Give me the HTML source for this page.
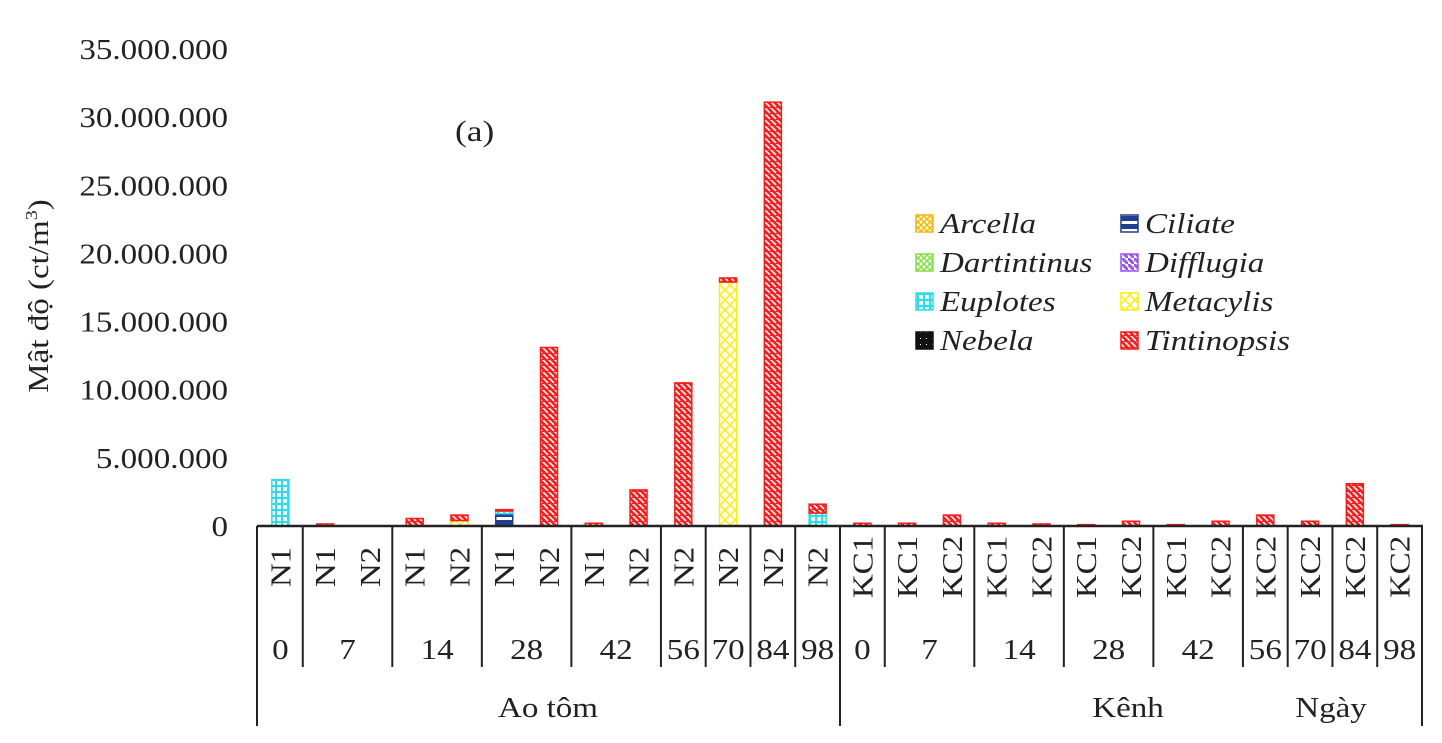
<!DOCTYPE html>
<html><head><meta charset="utf-8"><style>
body{margin:0;background:#fff}
svg{display:block;font-family:"Liberation Serif",serif}
</style></head><body>
<svg id="c" width="1442" height="743" viewBox="0 0 1442 743">
<defs>
<pattern id="p-arc" width="6" height="6" patternUnits="userSpaceOnUse"><rect width="6" height="6" fill="#fff"/><path d="M0 0L6 6M6 0L0 6" stroke="#f5b800" stroke-width="1.5"/></pattern>
<pattern id="p-cil" width="6" height="8" patternUnits="userSpaceOnUse"><rect width="6" height="8" fill="#1f3f8f"/><rect y="5" width="6" height="3" fill="#fff"/></pattern>
<pattern id="p-dar" width="6" height="6" patternUnits="userSpaceOnUse"><rect width="6" height="6" fill="#fff"/><path d="M0 0L6 6M6 0L0 6" stroke="#7fe040" stroke-width="1.5"/></pattern>
<pattern id="p-dif" width="6" height="6" patternUnits="userSpaceOnUse"><rect width="6" height="6" fill="#fff"/><path d="M0 0L6 6" stroke="#9a55f0" stroke-width="3"/></pattern>
<pattern id="p-eup" width="6" height="6" patternUnits="userSpaceOnUse"><rect width="6" height="6" fill="#22e0f0"/><rect x="1" y="1" width="4" height="4" fill="#fff"/></pattern>
<pattern id="p-met" width="10" height="10" patternUnits="userSpaceOnUse"><rect width="10" height="10" fill="#fff"/><path d="M5 0L10 5L5 10L0 5Z" fill="none" stroke="#ffee00" stroke-width="1.5"/></pattern>
<pattern id="p-neb" width="6" height="6" patternUnits="userSpaceOnUse"><rect width="6" height="6" fill="#111"/><rect x="2" y="2" width="1" height="1" fill="#fff"/></pattern>
<pattern id="p-tin" width="6" height="6" patternUnits="userSpaceOnUse"><rect width="6" height="6" fill="#ff1a1a"/><path d="M-1 2L2 5M2 -1L7 4" stroke="#fff" stroke-width="1.6"/></pattern>
</defs>
<g id="bars"></g>
<g id="axes"></g>
<g transform="translate(48,296) rotate(-90) scale(1.18,1)"><text x="0" y="0" text-anchor="middle" font-size="28" fill="#222">Mật độ (ct/m<tspan font-size="17" dy="-11">3</tspan><tspan dy="11">)</tspan></text></g>
<g transform="translate(455,141) scale(1.18,1)"><text x="0" y="0" font-size="30" fill="#222">(a)</text></g>
<g id="legend"></g>
</svg>
<script>
const series = ["Arcella","Ciliate","Dartintinus","Difflugia","Euplotes","Metacylis","Nebela","Tintinopsis"];
const patterns = ["p-arc","p-cil","p-dar","p-dif","p-eup","p-met","p-neb","p-tin"];
const strokes = ["#f5b800","#1f3f8f","#7fe040","#9a55f0","#22e0f0","#ffee00","#111","#ff1a1a"];
const categories = ["N1","N1","N2","N1","N2","N1","N2","N1","N2","N2","N2","N2","N2","KC1","KC1","KC2","KC1","KC2","KC1","KC2","KC1","KC2","KC2","KC2","KC2","KC2"];
const days = [["0",1],["7",2],["14",2],["28",2],["42",2],["56",1],["70",1],["84",1],["98",1],["0",1],["7",2],["14",2],["28",2],["42",2],["56",1],["70",1],["84",1],["98",1]];
const ciliate   = [0,0,0,0,0,0.9,0,0,0,0,0,0,0, 0,0,0,0,0,0,0,0,0,0,0,0,0];
const euplotes  = [3.4,0,0,0,0,0.2,0,0,0,0,0,0,0.95, 0,0,0,0,0,0,0,0,0,0,0,0,0];
const metacylis = [0,0,0,0,0.4,0,0,0,0,0,17.9,0,0, 0,0,0,0,0,0,0,0,0,0,0,0,0];
const tintinopsis=[0,0.15,0,0.55,0.4,0.1,13.1,0.2,2.65,10.5,0.3,31.1,0.65, 0.2,0.2,0.8,0.2,0.15,0.1,0.35,0.1,0.35,0.8,0.35,3.1,0.1];
const zeros = new Array(26).fill(0);
const values = [zeros,ciliate,zeros,zeros,euplotes,metacylis,zeros,tintinopsis];
const yTicks = [0,5,10,15,20,25,30,35];
const yTickLabels = ["0","5.000.000","10.000.000","15.000.000","20.000.000","25.000.000","30.000.000","35.000.000"];
const NS="http://www.w3.org/2000/svg";
const X0=258,X1=1422,Y0=526,YT=49,YMAX=35,SX=1.18,FS=28;
const bw=(X1-X0)/categories.length;
const y=v=>Y0-(v/YMAX)*(Y0-YT);
const xc=i=>X0+bw*(i+0.5);
function mk(tag,attrs,parent){const e=document.createElementNS(NS,tag);for(const k in attrs)e.setAttribute(k,attrs[k]);parent.appendChild(e);return e;}
function txt(parent,x,yy,rot,anchor,str,extra){const g=mk('g',{transform:`translate(${x},${yy}) rotate(${rot}) scale(${SX},1)`},parent);
  const a={x:0,y:0,'text-anchor':anchor,'font-size':FS,fill:'#222'};for(const k in (extra||{}))a[k]=extra[k];
  const t=mk('text',a,g);t.textContent=str;return t;}
const gB=document.getElementById('bars'),gA=document.getElementById('axes'),gL=document.getElementById('legend');
categories.forEach((c,i)=>{let acc=0;
  series.forEach((s,si)=>{const v=values[si][i];if(!v)return;
    const r=mk('rect',{x:xc(i)-8.5,y:y(acc+v),width:17,height:y(acc)-y(acc+v),fill:'url(#'+patterns[si]+')',stroke:strokes[si],'stroke-width':1.5},gB);
    
    
    acc+=v;});
  const t=txt(gA,xc(i)+10,567,-90,'middle',c);
  
  
});
yTicks.forEach((v,k)=>{const t=txt(gA,228,y(v)+10,0,'end',yTickLabels[k]);
  
  });
mk('line',{x1:X0-1,x2:X1+1,y1:Y0,y2:Y0,stroke:'#222','stroke-width':2.5},gA);
let idx=0;
days.forEach(([d,n],k)=>{const x=X0+bw*idx;
  if(k!==0&&k!==9)mk('line',{x1:x,x2:x,y1:Y0,y2:667,stroke:'#222','stroke-width':2},gA);
  const t=txt(gA,x+bw*n/2,659,0,'middle',d);
  
  
  idx+=n;});
[X0-1,X0+bw*13,X1].forEach(x=>mk('line',{x1:x,x2:x,y1:Y0,y2:726,stroke:'#222','stroke-width':2},gA));
[["Ao tôm",548],["Kênh",1128],["Ngày",1331]].forEach(([s,x])=>{const t=txt(gA,x,717,0,'middle',s);
  
  });
series.forEach((s,si)=>{const col=si%2,row=Math.floor(si/2);
  const lx=col?1121:916,ly=215+row*39;
  const sw=mk('rect',{x:lx,y:ly,width:17,height:17,fill:'url(#'+patterns[si]+')',stroke:strokes[si],'stroke-width':1.5},gL);
  
  
  const t=txt(gL,lx+24,ly+18,0,'start',s,{'font-style':'italic'});
  
  });
</script>
</body></html>
